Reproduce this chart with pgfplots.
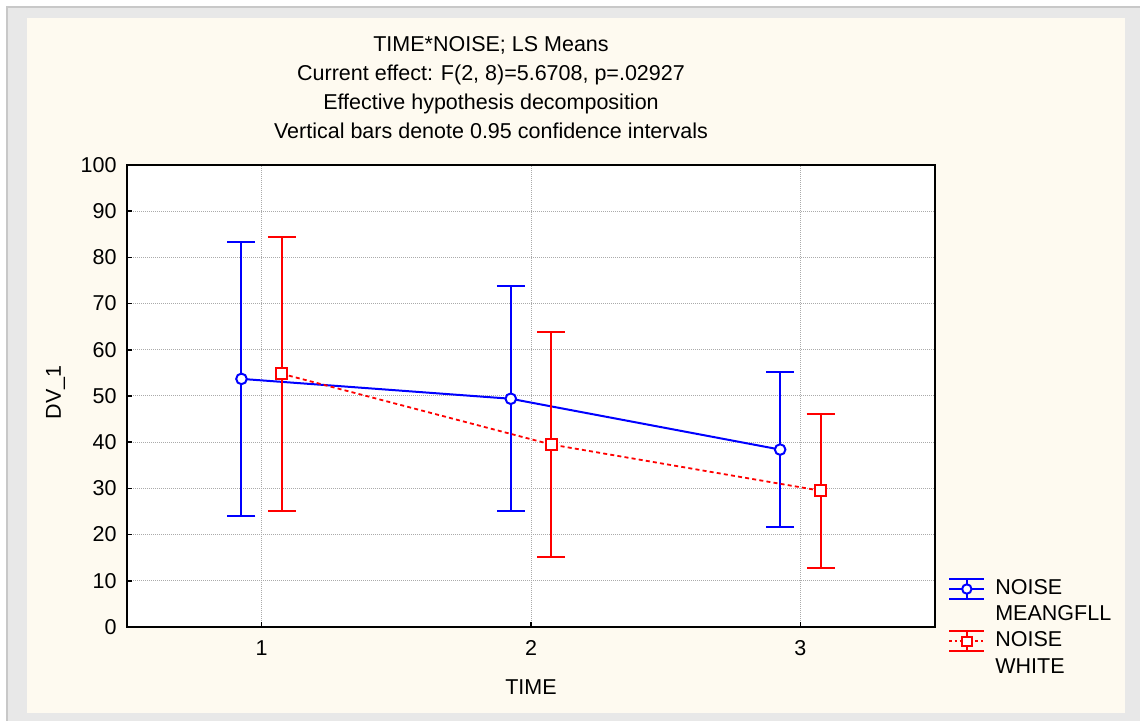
\documentclass[border=0pt]{standalone}
\usepackage{pgfplots}
\pgfplotsset{compat=1.18}
\usepackage{fontspec}
\setmainfont{Liberation Sans}
\definecolor{panel}{RGB}{254,250,240}
\definecolor{outer}{RGB}{232,232,232}
\definecolor{outerline}{RGB}{200,200,200}
\definecolor{gridc}{RGB}{170,170,170}
\definecolor{sblue}{RGB}{0,0,255}
\definecolor{sred}{RGB}{255,0,0}
\newcommand\chartfont{\fontsize{10.75}{13}\selectfont}

\pgfplotstableread{
x      y     e
0.925  53.7  29.6
1.925  49.4  24.3
2.925  38.4  16.8
}\meangfll
\pgfplotstableread{
x      y     e
1.075  54.8  29.7
2.075  39.5  24.3
3.075  29.5  16.7
}\white

\begin{document}
\begin{tikzpicture}
\useasboundingbox (0pt,0pt) rectangle (570pt,360.5pt);
\fill[white] (0pt,0pt) rectangle (570pt,360.5pt);
\fill[outer] (3.5pt,0pt) rectangle (570pt,357pt);
\draw[outerline, line width=1pt] (3.5pt,0pt) -- (3.5pt,357pt) -- (570pt,357pt);
\fill[panel] (13.5pt,4pt) rectangle (562.5pt,351.5pt);

\begin{axis}[
  at={(63.5pt,47pt)}, anchor=south west,
  scale only axis, width=404pt, height=231pt,
  xmin=0.5, xmax=3.5, ymin=0, ymax=100,
  xtick={1,2,3}, ytick={0,10,...,100},
  tick pos=left, tick align=inside,
  major tick length=2.5pt,
  tick style={black, line width=0.8pt},
  grid=major,
  grid style={gridc, line width=0.5pt, dash pattern=on 0.5pt off 0.5pt},
  axis line style={black, line width=0.6pt},
  axis background/.style={fill=white},
  ticklabel style={font=\chartfont},
  /pgf/number format/assume math mode=true,
  yticklabel style={anchor=east, inner sep=0pt, xshift=-5pt},
  xticklabel style={anchor=north, inner sep=0pt, yshift=-6.5pt},
  legend style={at={(rel axis cs:1.0165,0.106)}, anchor=north west,
    draw=none, fill=none, inner sep=0pt, outer sep=0pt,
    row sep=2.35pt, column sep=5pt,
    nodes={font=\chartfont, inner sep=0pt, text height=8pt, text depth=2.5pt}},
  legend cell align=left,
  after end axis/.code={
    \draw[black, line width=1.1pt] (rel axis cs:0,1) -- (rel axis cs:0,0) -- (rel axis cs:1,0);
  },
]
\addplot[sblue, line width=1pt, mark=*, mark size=2.65pt,
  mark options={fill=white, draw=sblue, solid},
  legend image code/.code={
    \draw[sblue, line width=1pt, solid] (0pt,5pt) -- (17.5pt,5pt)
      (0pt,-5pt) -- (17.5pt,-5pt) (8.75pt,-5pt) -- (8.75pt,5pt)
      (0pt,0pt) -- (17.5pt,0pt);
    \draw[sblue, line width=1pt, solid, fill=white] (8.75pt,0pt) circle (2.35pt);
  },
  error bars/.cd, y dir=both, y explicit,
  error bar style={line width=1pt, solid, sblue},
  error mark options={rotate=90, mark size=7pt, line width=1pt, sblue, solid}]
  table[x=x, y=y, y error=e] {\meangfll};
\addlegendentry{NOISE}
\addlegendimage{empty legend}
\addlegendentry{MEANGFLL}

\addplot[sred, line width=0.9pt, dash pattern=on 2pt off 1.6pt, mark=square*, mark size=2.75pt,
  mark options={fill=white, draw=sred, solid},
  legend image code/.code={
    \draw[sred, line width=1pt, solid] (0pt,5pt) -- (17.5pt,5pt)
      (0pt,-5pt) -- (17.5pt,-5pt) (8.75pt,-5pt) -- (8.75pt,5pt);
    \draw[sred, line width=1pt, dash pattern=on 1.4pt off 1.2pt] (0pt,0pt) -- (17.5pt,0pt);
    \draw[sred, line width=1pt, solid, fill=white] (6.4pt,-2.35pt) rectangle (11.1pt,2.35pt);
  },
  error bars/.cd, y dir=both, y explicit,
  error bar style={line width=1pt, solid, sred},
  error mark options={rotate=90, mark size=7pt, line width=1pt, sred, solid}]
  table[x=x, y=y, y error=e] {\white};
\addlegendentry{NOISE}
\addlegendimage{empty legend}
\addlegendentry{WHITE}
\end{axis}

\node[font=\chartfont, anchor=base] at (245.5pt,334.5pt) {TIME*NOISE; LS Means};
\node[font=\chartfont, anchor=base] at (245.5pt,320pt) {Current effect: F(2, 8)=5.6708, p=.02927};
\node[font=\chartfont, anchor=base] at (245.5pt,305.5pt) {Effective hypothesis decomposition};
\node[font=\chartfont, anchor=base] at (245.5pt,291pt) {Vertical bars denote 0.95 confidence intervals};
\node[font=\chartfont, anchor=base] at (265.5pt,13pt) {TIME};
\node[font=\chartfont, anchor=base, rotate=90] at (30.5pt,164.25pt) {DV\_1};
\end{tikzpicture}
\end{document}
